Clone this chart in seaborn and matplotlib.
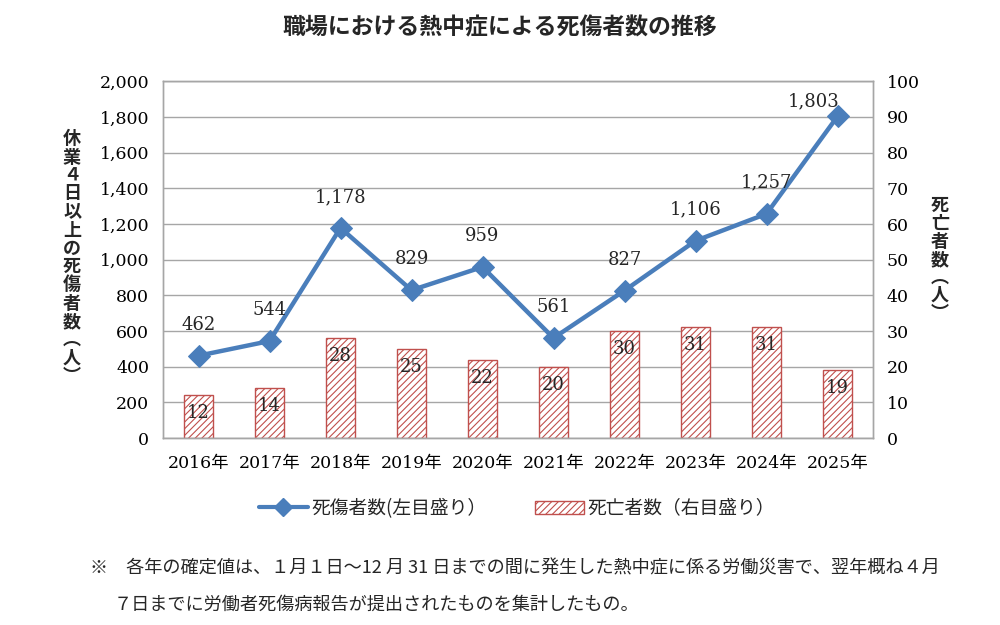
import numpy as np
import matplotlib
matplotlib.use("Agg")
import matplotlib.pyplot as plt
import seaborn as sns
from matplotlib.lines import Line2D
from matplotlib.patches import Patch

# data
years = ["2016年", "2017年", "2018年", "2019年", "2020年",
         "2021年", "2022年", "2023年", "2024年", "2025年"]
injuries = [462, 544, 1178, 829, 959, 561, 827, 1106, 1257, 1803]
deaths = [12, 14, 28, 25, 22, 20, 30, 31, 31, 19]

title = "職場における熱中症による死傷者数の推移"
left_label = "休業４日以上の死傷者数（人）"
right_label = "死亡者数（人）"
legend_line = "死傷者数(左目盛り）"
legend_bar = "死亡者数（右目盛り）"
note1 = "※　各年の確定値は、１月１日～12 月 31 日までの間に発生した熱中症に係る労働災害で、翌年概ね４月"
note2 = "７日までに労働者死傷病報告が提出されたものを集計したもの。"

BLUE = "#4A7EBB"
RED = "#C0504D"
GRID = "#A6A6A6"

sns.set_theme(style="white")
SERIF = ["DejaVu Serif", "Noto Sans CJK JP"]
CJK = ["Noto Sans CJK JP", "DejaVu Sans"]
plt.rcParams["font.family"] = SERIF
plt.rcParams["hatch.linewidth"] = 0.8


def vertical(s):
    # stack characters, use vertical-form brackets
    s = s.replace("（", "︵").replace("）", "︶")
    return "\n".join(s)


fig = plt.figure(figsize=(10, 6.25), dpi=100)
ax = fig.add_axes([0.163, 0.299, 0.71, 0.571])
ax2 = ax.twinx()

# bars (right axis) below, line (left axis) on top
ax.set_zorder(ax2.get_zorder() + 1)
ax.patch.set_visible(False)

sns.barplot(x=years, y=deaths, ax=ax2, color="white", saturation=1,
            edgecolor=RED, linewidth=1.0, hatch="/////", width=0.41, zorder=2)
ax2.set_ylim(0, 100)
ax2.set_yticks(np.arange(0, 101, 10))
ax2.yaxis.grid(True, color=GRID, linewidth=1.0, zorder=0)
ax2.set_axisbelow(True)

x = np.arange(len(years))
sns.lineplot(x=x, y=injuries, ax=ax, color=BLUE, linewidth=3.2,
             marker="D", markersize=11, markeredgecolor=BLUE)
ax.set_ylim(0, 2000)
ax.set_yticks(np.arange(0, 2001, 200))
ax.set_yticklabels([f"{v:,}" for v in range(0, 2001, 200)])
ax.set_xlim(-0.5, len(years) - 0.5)
ax.set_xticks(x)
ax.set_xticklabels(years)
ax.set_xlabel("")
ax2.set_xlabel("")
ax.set_ylabel("")
ax2.set_ylabel("")

for a in (ax, ax2):
    a.tick_params(length=0, labelsize=12.5, colors="black")
    for sp in a.spines.values():
        sp.set_color(GRID)
        sp.set_linewidth(1.0)
ax.tick_params(axis="y", pad=10)
ax2.tick_params(axis="y", pad=10)
ax.tick_params(axis="x", pad=12)

# value labels
for i, v in enumerate(injuries):
    if i == len(injuries) - 1:
        ax.annotate(f"{v:,}", (i, v), xytext=(-24, 15), textcoords="offset pixels",
                    ha="center", va="center", fontsize=13)
    else:
        ax.annotate(f"{v:,}", (i, v), xytext=(0, 31), textcoords="offset pixels",
                    ha="center", va="center", fontsize=13)
for i, v in enumerate(deaths):
    ax2.annotate(f"{v}", (i, v), xytext=(0, -18), textcoords="offset pixels",
                 ha="center", va="center", fontsize=13, zorder=5)

fig.text(0.5, 0.955, title, ha="center", va="center", fontsize=16.5,
         fontweight="bold", family=CJK)
fig.text(0.072, 0.588, vertical(left_label), ha="center", va="center",
         fontsize=13, fontweight="bold", family=CJK, linespacing=0.95)
fig.text(0.94, 0.585, vertical(right_label), ha="center", va="center",
         fontsize=13, fontweight="bold", family=CJK, linespacing=0.93)

handles = [
    Line2D([0], [0], color=BLUE, linewidth=3, marker="D", markersize=9),
    Patch(facecolor="white", edgecolor=RED, hatch="/////", linewidth=1.0),
]
fig.legend(handles, [legend_line, legend_bar], loc="center",
           bbox_to_anchor=(0.517, 0.187), ncol=2, frameon=False,
           prop={"family": CJK, "size": 13.5}, handlelength=2.6,
           columnspacing=2.6, handletextpad=0.2)

fig.text(0.09, 0.091, note1, ha="left", va="center", fontsize=13.1, family=CJK)
fig.text(0.114, 0.033, note2, ha="left", va="center", fontsize=13.1, family=CJK)

fig.savefig("out.png", dpi=100)
